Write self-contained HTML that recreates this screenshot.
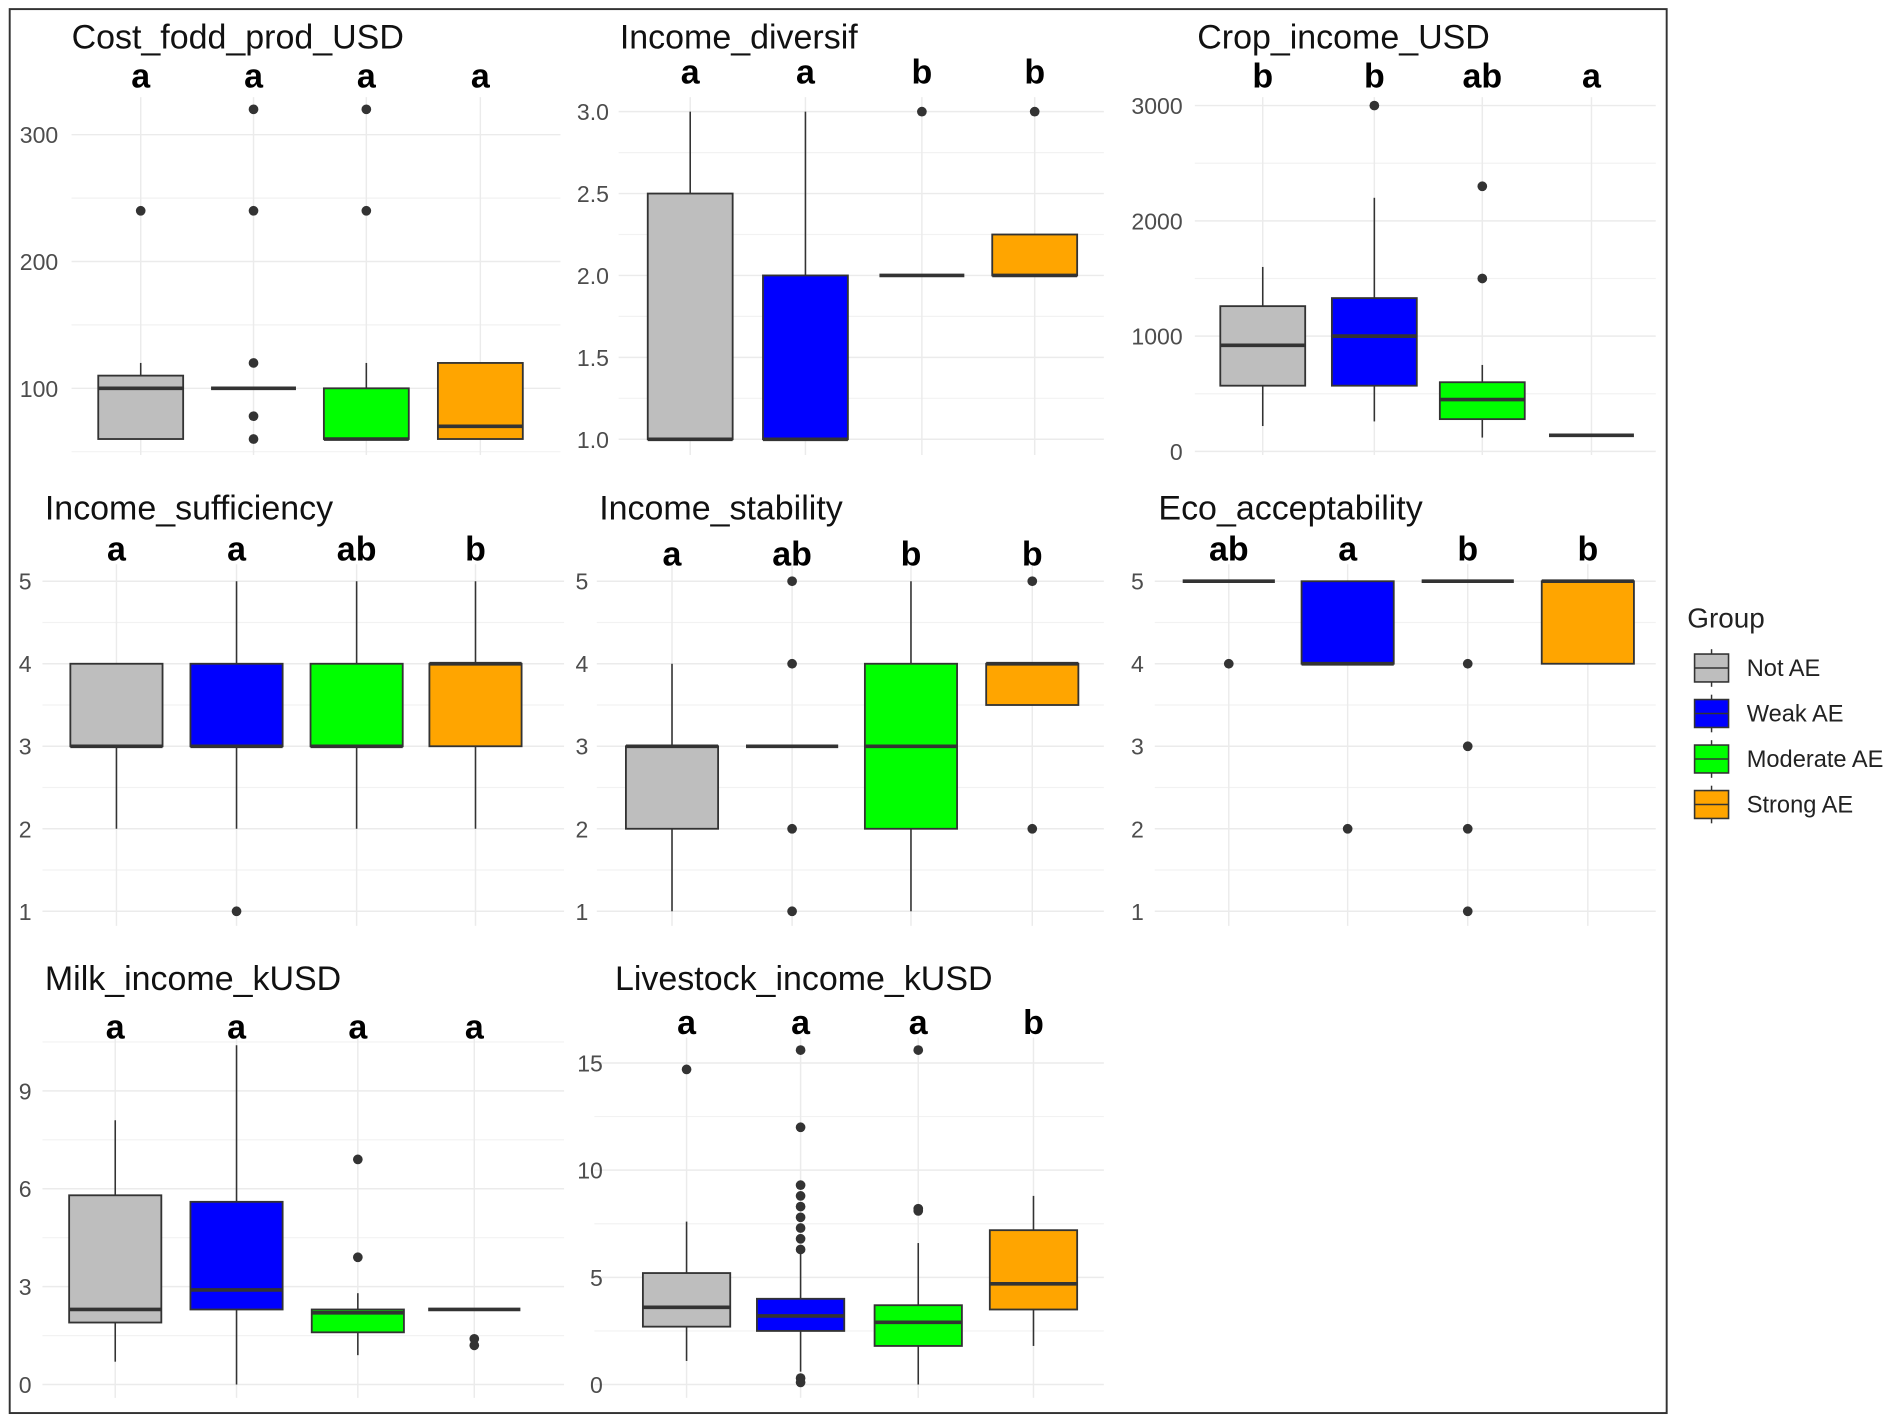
<!DOCTYPE html>
<html><head><meta charset="utf-8"><style>
html,body{margin:0;padding:0;background:#fff;}
svg{display:block;}
text{font-family:"Liberation Sans",sans-serif;}
</style></head><body>
<svg id="chart" width="1902" height="1427" viewBox="0 0 1568 1176" preserveAspectRatio="none" xmlns="http://www.w3.org/2000/svg">
<rect x="0" y="0" width="1568" height="1176" fill="#fff"/>
<rect x="8" y="7.5" width="1366" height="1157" fill="none" stroke="#333" stroke-width="1.6"/>
<g id="panels"></g>
<g id="legend">
<text x="1391" y="517" font-size="23" fill="#222">Group</text>
</g>
</svg>
<script>
const groups = ["Not AE","Weak AE","Moderate AE","Strong AE"];
const fills = ["#bebebe","#0000ff","#00ff00","#ffa500"];

// Cost_fodd_prod_USD
const costLo=[60,100,60,60], costQ1=[60,100,60,60], costMed=[100,100,60,70], costQ3=[110,100,100,120], costHi=[120,100,120,120];
const costOut=[[240],[320,240,120,78,60],[320,240],[]];
const costLetters=["a","a","a","a"];
const costTicks=[100,200,300];
// Income_diversif
const divLo=[1,1,2,2], divQ1=[1,1,2,2], divMed=[1,1,2,2], divQ3=[2.5,2,2,2.25], divHi=[3,3,2,2.25];
const divOut=[[],[],[3],[3]];
const divLetters=["a","a","b","b"];
const divTicks=[1.0,1.5,2.0,2.5,3.0];
// Crop_income_USD
const cropLo=[220,260,120,140], cropQ1=[570,570,280,140], cropMed=[920,1000,450,140], cropQ3=[1260,1330,600,140], cropHi=[1600,2200,750,140];
const cropOut=[[],[3000],[2300,1500],[]];
const cropLetters=["b","b","ab","a"];
const cropTicks=[0,1000,2000,3000];
// Income_sufficiency
const sufLo=[2,2,2,2], sufQ1=[3,3,3,3], sufMed=[3,3,3,4], sufQ3=[4,4,4,4], sufHi=[4,5,5,5];
const sufOut=[[],[1],[],[]];
const sufLetters=["a","a","ab","b"];
const sufTicks=[1,2,3,4,5];
// Income_stability
const stbLo=[1,3,1,3.5], stbQ1=[2,3,2,3.5], stbMed=[3,3,3,4], stbQ3=[3,3,4,4], stbHi=[4,3,5,4];
const stbOut=[[],[5,4,2,1],[],[5,2]];
const stbLetters=["a","ab","b","b"];
const stbTicks=[1,2,3,4,5];
// Eco_acceptability
const ecoLo=[5,4,5,4], ecoQ1=[5,4,5,4], ecoMed=[5,4,5,5], ecoQ3=[5,5,5,5], ecoHi=[5,5,5,5];
const ecoOut=[[4],[2],[4,3,2,1],[]];
const ecoLetters=["ab","a","b","b"];
const ecoTicks=[1,2,3,4,5];
// Milk_income_kUSD
const milkLo=[0.7,0,0.9,2.3], milkQ1=[1.9,2.3,1.6,2.3], milkMed=[2.3,2.9,2.2,2.3], milkQ3=[5.8,5.6,2.3,2.3], milkHi=[8.1,10.4,2.8,2.3];
const milkOut=[[],[],[6.9,3.9],[1.4,1.2]];
const milkLetters=["a","a","a","a"];
const milkTicks=[0,3,6,9];
// Livestock_income_kUSD
const livLo=[1.1,0.6,0,1.8], livQ1=[2.7,2.5,1.8,3.5], livMed=[3.6,3.2,2.9,4.7], livQ3=[5.2,4.0,3.7,7.2], livHi=[7.6,6.1,6.6,8.8];
const livOut=[[14.7],[15.6,12,9.3,8.8,8.3,7.8,7.3,6.8,6.3,0.3,0.1],[15.6,8.2,8.1],[]];
const livLetters=["a","a","a","b"];
const livTicks=[0,5,10,15];

const panels=[
 {name:"cost",title:"Cost_fodd_prod_USD",tx:59,ty:40,x0:59,x1:462,yt:80,yb:375,gx:[116,209,302,396],bw:70,cal:[100,320,300,111],minor:[50,150,250],ticks:costTicks,lo:costLo,q1:costQ1,med:costMed,q3:costQ3,hi:costHi,out:costOut,let:costLetters,ly:72,lblx:48},
 {name:"diversif",title:"Income_diversif",tx:511,ty:40,x0:510,x1:910,yt:80,yb:375,gx:[569,664,760,853],bw:70,cal:[1,362,3,92],minor:[1.25,1.75,2.25,2.75],ticks:divTicks,lo:divLo,q1:divQ1,med:divMed,q3:divQ3,hi:divHi,out:divOut,let:divLetters,ly:69,lblx:502,dec:1},
 {name:"crop",title:"Crop_income_USD",tx:987,ty:40,x0:985,x1:1365,yt:80,yb:375,gx:[1041,1133,1222,1312],bw:70,cal:[0,372,3000,87],minor:[500,1500,2500],ticks:cropTicks,lo:cropLo,q1:cropQ1,med:cropMed,q3:cropQ3,hi:cropHi,out:cropOut,let:cropLetters,ly:72,lblx:975},
 {name:"sufficiency",title:"Income_sufficiency",tx:37,ty:428,x0:35,x1:465,yt:465,yb:763,gx:[96,195,294,392],bw:76,cal:[1,751,5,479],minor:[1.5,2.5,3.5,4.5],ticks:sufTicks,lo:sufLo,q1:sufQ1,med:sufMed,q3:sufQ3,hi:sufHi,out:sufOut,let:sufLetters,ly:462,lblx:26},
 {name:"stability",title:"Income_stability",tx:494,ty:428,x0:492,x1:910,yt:465,yb:763,gx:[554,653,751,851],bw:76,cal:[1,751,5,479],minor:[1.5,2.5,3.5,4.5],ticks:stbTicks,lo:stbLo,q1:stbQ1,med:stbMed,q3:stbQ3,hi:stbHi,out:stbOut,let:stbLetters,ly:466,lblx:485},
 {name:"eco",title:"Eco_acceptability",tx:955,ty:428,x0:952,x1:1365,yt:465,yb:763,gx:[1013,1111,1210,1309],bw:76,cal:[1,751,5,479],minor:[1.5,2.5,3.5,4.5],ticks:ecoTicks,lo:ecoLo,q1:ecoQ1,med:ecoMed,q3:ecoQ3,hi:ecoHi,out:ecoOut,let:ecoLetters,ly:462,lblx:943},
 {name:"milk",title:"Milk_income_kUSD",tx:37,ty:816,x0:35,x1:465,yt:855,yb:1152,gx:[95,195,295,391],bw:76,cal:[0,1141,9,899],minor:[1.5,4.5,7.5,10.5],ticks:milkTicks,lo:milkLo,q1:milkQ1,med:milkMed,q3:milkQ3,hi:milkHi,out:milkOut,let:milkLetters,ly:856,lblx:26},
 {name:"livestock",title:"Livestock_income_kUSD",tx:507,ty:816,x0:490,x1:910,yt:855,yb:1152,gx:[566,660,757,852],bw:72,cal:[0,1141,15,876],minor:[2.5,7.5,12.5],ticks:livTicks,lo:livLo,q1:livQ1,med:livMed,q3:livQ3,hi:livHi,out:livOut,let:livLetters,ly:852,lblx:497}
];
const NS="http://www.w3.org/2000/svg";
function mk(parent,tag,attrs){const e=document.createElementNS(NS,tag);for(const k in attrs)e.setAttribute(k,attrs[k]);parent.appendChild(e);return e;}
const root=document.getElementById("panels");
panels.forEach(p=>{
 const g=mk(root,"g",{});
 
 
 const yS=v=>p.cal[1]+(v-p.cal[0])*(p.cal[3]-p.cal[1])/(p.cal[2]-p.cal[0]);
 p.minor.forEach(v=>{const y=yS(v);if(y<p.yt||y>p.yb)return;const l=mk(g,"line",{x1:p.x0,x2:p.x1,y1:y,y2:y,stroke:"#f2f2f2","stroke-width":1});
  
  });
 p.ticks.forEach(v=>{const y=yS(v);const l=mk(g,"line",{x1:p.x0,x2:p.x1,y1:y,y2:y,stroke:"#ebebeb","stroke-width":1.2});
  
  
  const t=mk(g,"text",{x:p.lblx,y:y+7,"font-size":19,fill:"#4d4d4d","text-anchor":"end"});
  t.textContent=p.dec?v.toFixed(1):String(v);
  
  });
 p.gx.forEach(x=>{const l=mk(g,"line",{x1:x,x2:x,y1:p.yt,y2:p.yb,stroke:"#ebebeb","stroke-width":1.2});
  
  });
 const tt=mk(g,"text",{x:p.tx,y:p.ty,"font-size":28,fill:"#111"});
 tt.textContent=p.title;
 
 
 groups.forEach((gn,i)=>{
  const x=p.gx[i],hw=p.bw/2;
  const bg=mk(g,"g",{});
  
  
  mk(bg,"line",{x1:x,x2:x,y1:yS(p.hi[i]),y2:yS(p.q3[i]),stroke:"#333","stroke-width":1.3});
  mk(bg,"line",{x1:x,x2:x,y1:yS(p.q1[i]),y2:yS(p.lo[i]),stroke:"#333","stroke-width":1.3});
  const top=yS(p.q3[i]),bot=yS(p.q1[i]);
  if(bot-top>0.5) mk(bg,"rect",{x:x-hw,y:top,width:p.bw,height:bot-top,fill:fills[i],stroke:"#333","stroke-width":1.5});
  mk(bg,"line",{x1:x-hw,x2:x+hw,y1:yS(p.med[i]),y2:yS(p.med[i]),stroke:"#333","stroke-width":3});
  p.out[i].forEach(v=>{const c=mk(bg,"circle",{cx:x,cy:yS(v),r:4,fill:"#333"});
   
   });
  const lt=mk(g,"text",{x:x,y:p.ly,"font-size":28,"font-weight":"bold",fill:"#000","text-anchor":"middle"});
  lt.textContent=p.let[i];
  
  
 });
});
const leg=document.getElementById("legend");
groups.forEach((gn,i)=>{
 const y=539+i*37.5;
 const e=mk(leg,"g",{});
 
 
 mk(e,"line",{x1:1411,x2:1411,y1:y-4,y2:y+27,stroke:"#333","stroke-width":1.2});
 mk(e,"rect",{x:1397,y:y,width:28,height:23,fill:fills[i],stroke:"#333","stroke-width":1.3});
 mk(e,"line",{x1:1397,x2:1425,y1:y+11.5,y2:y+11.5,stroke:"#333","stroke-width":1.3});
 const t=mk(e,"text",{x:1440,y:y+18,"font-size":19.5,fill:"#222"});
 t.textContent=gn;
});
</script>
</body></html>
